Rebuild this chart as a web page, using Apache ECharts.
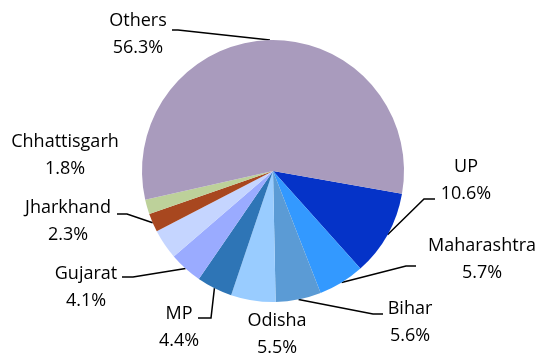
<!DOCTYPE html>
<html>
<head>
<meta charset="utf-8">
<script src="https://cdn.jsdelivr.net/npm/echarts@6/dist/echarts.min.js"></script>
<style>
  html, body { margin: 0; padding: 0; background: #fff; }
  #chart { width: 544px; height: 356px; }
</style>
</head>
<body>
<div id="chart"></div>
<script>
// State-wise share (%), clockwise from the first slice
const states = ['UP', 'Maharashtra', 'Bihar', 'Odisha', 'MP', 'Gujarat', 'Remaining', 'Jharkhand', 'Chhattisgarh', 'Others'];
const shares = [10.6, 5.7, 5.6, 5.5, 4.4, 4.1, 3.7, 2.3, 1.8, 56.3];
const labelled = [true, true, true, true, true, true, false, true, true, true];

// Slice fills
const sliceColors = ['#0533C8', '#3399FF', '#5B9BD5', '#99CCFF', '#2E75B6', '#9AABFF', '#C5D5FF', '#A8471F', '#BDD19A', '#A99BBD'];

// Pie geometry
const CX = 273, CY = 171, R = 131, START_CW = 10; // start: 10 degrees below 3 o'clock

// Label block centres and leader-line bend/end points (null = no leader line)
const labelCentres = [[466, 180], [482, 259], [410, 322], [277, 334], [179, 327], [86, 287], null, [68, 221], [65, 155], [138, 34]];
const leaderBends = [
  [[424, 199], [435, 199]],
  [[406, 266], [416, 266]],
  [[373, 314], [383, 314]],
  null,
  [[211, 318], [198, 318]],
  [[133, 277], [122, 277]],
  null,
  [[127, 214], [117, 214]],
  null,
  [[178, 30], [172, 30]]
];

const total = shares.reduce((a, b) => a + b, 0);
// point on the rim at the middle angle of slice i
function rimPoint(i) {
  let before = 0;
  for (let k = 0; k < i; k++) before += shares[k];
  const deg = START_CW + (before + shares[i] / 2) / total * 360;
  const rad = deg * Math.PI / 180;
  return [CX + R * Math.cos(rad), CY + R * Math.sin(rad)];
}

const data = states.map((name, i) => ({
  name: name,
  value: shares[i],
  itemStyle: { color: sliceColors[i] },
  label: { show: labelled[i] },
  labelLine: { show: !!leaderBends[i] }
}));

const chart = echarts.init(document.getElementById('chart'), null, { renderer: 'canvas' });
chart.setOption({
  animation: false,
  backgroundColor: '#ffffff',
  series: [{
    type: 'pie',
    center: [CX, CY],
    radius: R,
    startAngle: 360 - START_CW,
    clockwise: true,
    avoidLabelOverlap: false,
    silent: true,
    data: data,
    label: {
      show: true,
      position: 'outside',
      formatter: '{b}\n{c}%',
      fontFamily: 'Open Sans',
      fontSize: 18,
      lineHeight: 27,
      color: '#000000'
    },
    labelLine: {
      show: true,
      lineStyle: { color: '#000000', width: 1.5 }
    },
    labelLayout: function (params) {
      const i = params.dataIndex;
      const c = labelCentres[i];
      if (!c) return {};
      const out = { x: c[0], y: c[1], align: 'center', verticalAlign: 'middle' };
      const bend = leaderBends[i];
      if (bend) out.labelLinePoints = [rimPoint(i), bend[0], bend[1]];
      return out;
    }
  }]
});
</script>
</body>
</html>
